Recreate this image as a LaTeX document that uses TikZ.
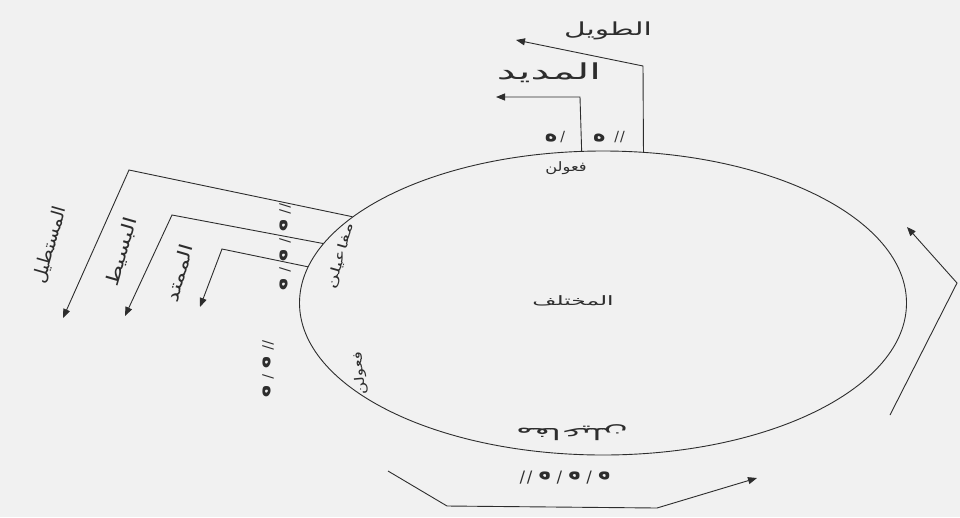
\documentclass[tikz,border=0pt]{standalone}
\usepackage{fontspec}
\TeXXeTstate=1
\newfontfamily\arabicfont[Script=Arabic]{DejaVu Sans}
\newfontfamily\markfont{DejaVu Sans}
\usetikzlibrary{shapes.geometric,arrows.meta}
\definecolor{bg}{RGB}{241,241,241}
\definecolor{ink}{RGB}{45,45,45}
\newcommand{\hmk}{{\bfseries\fontsize{21}{21}\selectfont ه}}
\newcommand{\slmk}{\kern0pt/\kern0pt}
\begin{document}
\begin{tikzpicture}[x=1pt,y=-1pt,
  line width=0.9pt,
  conn/.style={draw=ink, line width=0.9pt},
  arr/.style={conn, -{Triangle[length=9pt,width=7pt]}},
  lbl/.style={font=\arabicfont\fontsize{18}{18}\selectfont, inner sep=0pt, text=ink},
  biglbl/.style={font=\arabicfont\fontsize{22}{22}\selectfont, inner sep=0pt, text=ink},
  foot/.style={font=\arabicfont\fontsize{13}{13}\selectfont, inner sep=0pt, text=ink},
  marks/.style={font=\markfont\fontsize{14}{14}\selectfont, inner sep=0pt, text=ink}]
\fill[bg] (0,0) rectangle (960,517);
\useasboundingbox (0,0) rectangle (960,517);

% the circle
\node[draw=ink, line width=0.9pt, ellipse, minimum width=607pt, minimum height=304pt, inner sep=0pt] (circ) at (603,303) {};

% texts on the circle
\node[foot, xscale=1.8] (center) at (573,301) {\beginR المختلف\endR};
\node[foot, xscale=1.25] (ftop) at (566,168) {\beginR فعولن\endR};
\node[foot, rotate=74, xscale=1.55] (mleft) at (341,256) {\beginR مفاعيلن\endR};
\node[foot, rotate=95, xscale=1.3] (fleft) at (360,373) {\beginR فعولن\endR};
\node[foot, rotate=180, xscale=2.1, font=\arabicfont\fontsize{16}{16}\selectfont] (mbot) at (572,433) {\beginR مفاعيلن\endR};

% prosodic marks
\node[marks] (mk1) at (555,137) {\hmk\kern3pt\slmk};
\node[marks] (mk2) at (609,137) {\hmk\kern9pt\slmk\kern1pt\slmk};
\node[marks, rotate=-90] (mk3) at (285,247) {\slmk\kern1pt\slmk\kern6pt\hmk\kern6pt\slmk\kern6pt\hmk\kern6pt\slmk\kern6pt\hmk};
\node[marks, rotate=-90] (mk4) at (268,369) {\slmk\kern1pt\slmk\kern6pt\hmk\kern6pt\slmk\kern6pt\hmk};
\node[marks, rotate=180, font=\markfont\fontsize{16}{16}\selectfont] (mk5) at (565,478) {\hmk\kern6pt\slmk\kern6pt\hmk\kern6pt\slmk\kern6pt\hmk\kern6pt\slmk\kern2pt\slmk};

% top arrows
\coordinate (tb) at (643,66);
\coordinate (tt) at (516,40);
\draw[arr] (circ.75.1) -- (tb) -- (tt);
\node[lbl, xscale=1.65] (tawil) at (608,31) {\beginR الطويل\endR};

\coordinate (mb) at (580,97);
\coordinate (mt) at (496,97);
\draw[arr] (circ.98.6) -- (mb) -- (mt);
\node[biglbl, xscale=1.9] (madid) at (549,73) {\beginR المديد\endR};

% left arrows
\coordinate (sb) at (129,170);
\coordinate (st) at (63,318);
\draw[arr] (circ.161.4) -- (sb) -- (st);
\node[lbl, rotate=74, xscale=1.05] (mustatil) at (50,245) {\beginR المستطيل\endR};

\coordinate (bb) at (172,215);
\coordinate (bt) at (125,316);
\draw[arr] (circ.168.3) -- (bb) -- (bt);
\node[lbl, rotate=74, xscale=1.3] (basit) at (122,252) {\beginR البسيط\endR};

\coordinate (xb) at (222,249);
\coordinate (xt) at (200,307);
\draw[arr] (circ.173.3) -- (xb) -- (xt);
\node[lbl, rotate=74, xscale=1.3] (mumtad) at (179,273) {\beginR الممتد\endR};

% bottom arrow
\coordinate (b1) at (388,471);
\coordinate (b2) at (447,506);
\coordinate (b3) at (657,508);
\coordinate (b4) at (757,478);
\draw[arr] (b1) -- (b2) -- (b3) -- (b4);

% right arrow
\coordinate (r1) at (890,415);
\coordinate (r2) at (957,283);
\coordinate (r3) at (907,227);
\draw[arr] (r1) -- (r2) -- (r3);
\end{tikzpicture}
\end{document}
